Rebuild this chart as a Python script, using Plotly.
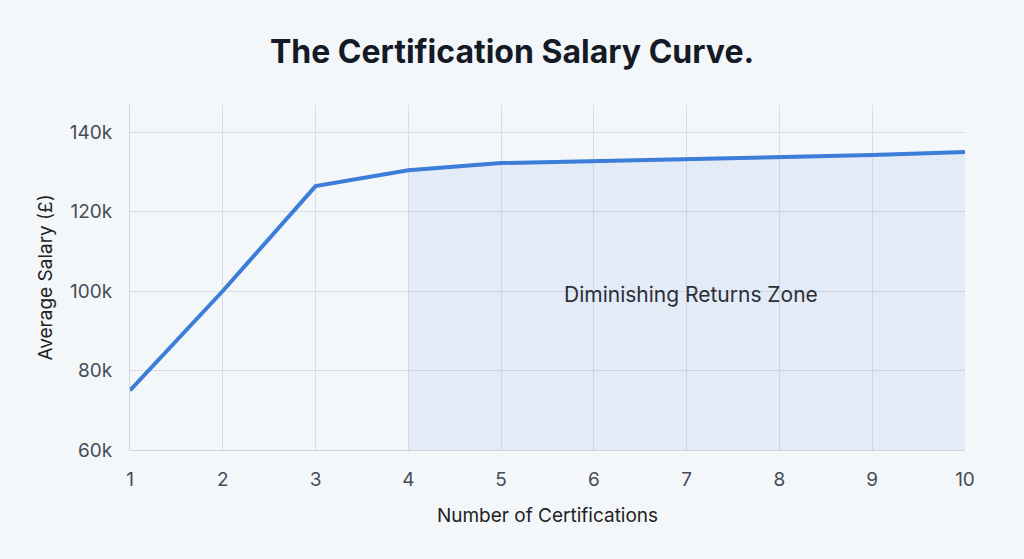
import plotly.graph_objects as go

# data
certs = [1, 2, 3, 4, 5, 6, 7, 8, 9, 10]
salary = [75000, 100000, 126400, 130400, 132200, 132700, 133200, 133700, 134200, 135000]
zone_start = 4
zone_label = "Diminishing Returns Zone"
y_ticks = [60000, 80000, 100000, 120000, 140000]
y_tick_text = ["60k", "80k", "100k", "120k", "140k"]

FONT = "Inter, 'Noto Sans', sans-serif"
LINE = "#3B7DD8"
BG = "#F4F7FA"

zone_x = [c for c in certs if c >= zone_start]
zone_y = [s for c, s in zip(certs, salary) if c >= zone_start]

fig = go.Figure()

# shaded zone: baseline then fill up to the curve
fig.add_trace(go.Scatter(
    x=zone_x, y=[y_ticks[0]] * len(zone_x), mode="lines",
    line=dict(width=0), hoverinfo="skip", showlegend=False,
))
fig.add_trace(go.Scatter(
    x=zone_x, y=zone_y, mode="lines", fill="tonexty",
    fillcolor="rgba(120,160,225,0.14)", line=dict(width=0),
    hoverinfo="skip", showlegend=False,
))

fig.add_trace(go.Scatter(
    x=certs, y=salary, mode="lines",
    line=dict(color=LINE, width=4), showlegend=False,
))

fig.add_annotation(
    x=7.05, y=99200, text=zone_label, showarrow=False,
    font=dict(family=FONT, size=21, color="#2a2f3a"),
)

fig.update_layout(
    width=1024, height=559,
    paper_bgcolor=BG, plot_bgcolor=BG,
    margin=dict(l=130, r=59, t=105, b=109),
    title=dict(
        text="<b>The Certification Salary Curve.</b>",
        x=0.5, xanchor="center", y=0.907, yanchor="middle",
        font=dict(family=FONT, size=32, color="#141A26"),
    ),
    font=dict(family=FONT, color="#3d4450"),
)

fig.update_xaxes(
    range=[1, 10], tickvals=certs, showgrid=True, gridcolor="#D8DDE4", gridwidth=1,
    zeroline=False, showline=True, linecolor="#D0D5DC",
    tickfont=dict(size=19, color="#454c58"), ticks="", ticklabelstandoff=12,
    title=dict(text="Number of Certifications", font=dict(size=19, color="#222"), standoff=18),
)
fig.update_yaxes(
    range=[60000, 146800], tickvals=y_ticks, ticktext=y_tick_text,
    showgrid=True, gridcolor="#D8DDE4", gridwidth=1, zeroline=False,
    showline=True, linecolor="#D0D5DC",
    tickfont=dict(size=19, color="#454c58"), ticks="", ticklabelstandoff=13,
    title=dict(text="Average Salary (£)", font=dict(size=19, color="#222"), standoff=12),
)

fig.write_html(
    "out.html",
    config={"displayModeBar": False},
    post_script="document.body.style.margin='0';document.body.style.background='%s';" % BG,
)
